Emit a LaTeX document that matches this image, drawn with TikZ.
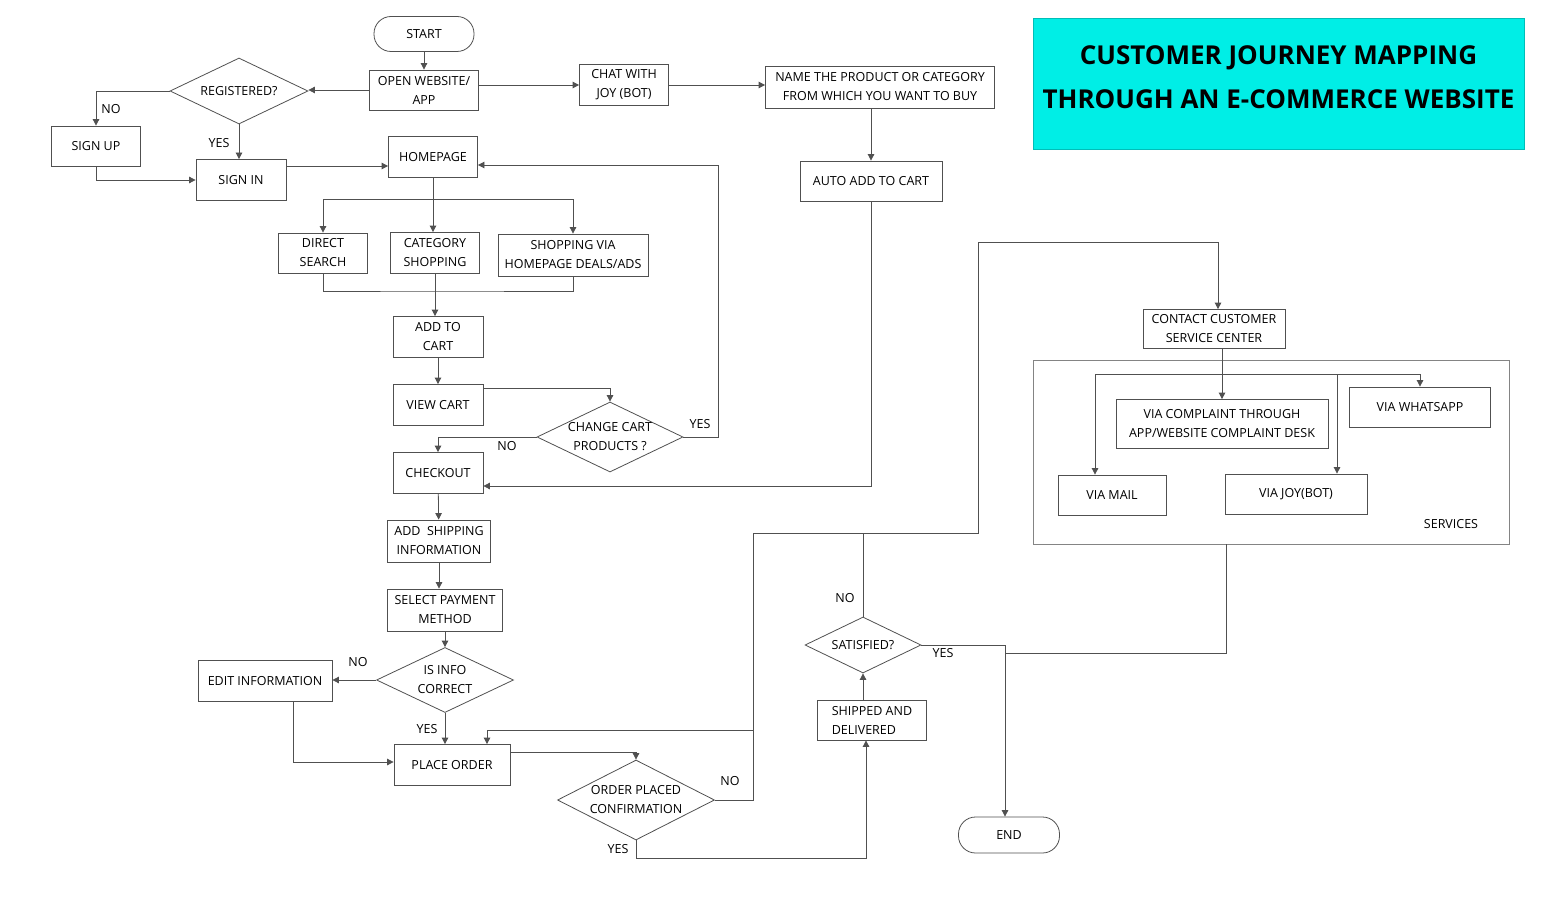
\documentclass[tikz,border=0pt]{standalone}
\usepackage{fontspec}
\setmainfont{Open Sans}
\usepackage{tikz}
\usetikzlibrary{shapes.geometric,arrows.meta}
\definecolor{titlecyan}{RGB}{0,238,230}
\definecolor{linegray}{RGB}{80,80,80}
\tikzstyle{node_box} = [rectangle, draw=linegray, line width=0.8pt, inner sep=1pt, align=center, font=\fontsize{12.5}{19}\selectfont]
\tikzstyle{node_term} = [rectangle, rounded corners=17pt, draw=linegray, line width=0.8pt, inner sep=1pt, font=\fontsize{12.5}{19}\selectfont]
\tikzstyle{node_dec} = [diamond, draw=linegray, line width=0.8pt, inner sep=-4pt, align=center, font=\fontsize{12.5}{19}\selectfont]
\tikzstyle{node_text} = [inner sep=0pt, font=\fontsize{12.5}{15}\selectfont]
\tikzstyle{node_title} = [rectangle, fill=titlecyan, draw=titlecyan!80!black, line width=0.4pt, align=center, font=\fontsize{26}{44}\selectfont\bfseries]
\tikzstyle{edge_normal} = [draw=linegray, line width=0.8pt]
\tikzstyle{edge_arrow} = [draw=linegray, line width=0.8pt, -{Triangle[length=6.5pt,width=6.5pt]}]

\begin{document}
\begin{tikzpicture}[x=1pt,y=-1pt]
			\useasboundingbox (0,0) rectangle (1560,920);
			\node (TITLE) at (1278.5,83.5) [node_title, minimum width=491, minimum height=131] {CUSTOMER JOURNEY MAPPING\\THROUGH AN E-COMMERCE WEBSITE\rule[-12pt]{0pt}{0pt}};
			
			\node (START) at (424,34) [node_term, minimum width=100, minimum height=35] {START};
			\node (OPEN) at (424,90) [node_box, minimum width=109, minimum height=40] {OPEN WEBSITE/\\APP};
			\node (REG) at (239,91) [node_dec, minimum width=138, minimum height=66, aspect=2.1] {REGISTERED?};
			\node (SIGNUP) at (96,146) [node_box, minimum width=89, minimum height=40] {SIGN UP};
			\node (SIGNIN) at (241,180) [node_box, minimum width=90, minimum height=41] {SIGN IN};
			\node (HOME) at (433,157) [node_box, minimum width=89, minimum height=41] {HOMEPAGE};
			\node (CHAT) at (624,85) [node_box, minimum width=89, minimum height=41] {CHAT WITH\\JOY (BOT)};
			\node (NAME) at (880,87) [node_box, minimum width=229, minimum height=42] {NAME THE PRODUCT OR CATEGORY\\FROM WHICH YOU WANT TO BUY};
			\node (AUTO) at (871,181) [node_box, minimum width=142, minimum height=40] {AUTO ADD TO CART};
			\node (DIRECT) at (323,253) [node_box, minimum width=89, minimum height=40] {DIRECT\\SEARCH};
			\node (CAT) at (435,253) [node_box, minimum width=89, minimum height=41] {CATEGORY\\SHOPPING};
			\node (DEALS) at (573,255) [node_box, minimum width=150, minimum height=42] {SHOPPING VIA\\HOMEPAGE DEALS/ADS};
			\node (ADDCART) at (438,337) [node_box, minimum width=90, minimum height=41] {ADD TO\\CART};
			\node (VIEW) at (438,405) [node_box, minimum width=90, minimum height=41] {VIEW CART};
			\node (CHG) at (610,437) [node_dec, minimum width=146, minimum height=70, aspect=2.09] {CHANGE CART\\PRODUCTS ?};
			\node (CHECK) at (438,473) [node_box, minimum width=90, minimum height=41] {CHECKOUT};
			\node (SHIP) at (439,541) [node_box, minimum width=103, minimum height=42] {ADD\ \ SHIPPING\\INFORMATION};
			\node (PAY) at (445,610) [node_box, minimum width=115, minimum height=42] {SELECT PAYMENT\\METHOD};
			\node (INFO) at (445,680) [node_dec, minimum width=137, minimum height=65, aspect=2.1] {IS INFO\\CORRECT};
			\node (EDIT) at (265,681) [node_box, minimum width=134, minimum height=41] {EDIT INFORMATION};
			\node (PLACE) at (452,765) [node_box, minimum width=116, minimum height=41] {PLACE ORDER};
			\node (ORD) at (636,800) [node_dec, minimum width=157, minimum height=80, aspect=1.96] {ORDER PLACED\\CONFIRMATION};
			\node (SHIPD) at (872,720) [node_box, minimum width=109, minimum height=40, align=left] {SHIPPED AND\\DELIVERED};
			\node (SAT) at (863,645) [node_dec, minimum width=116, minimum height=56, aspect=2.07] {SATISFIED?};
			\node (END) at (1009,835) [node_term, minimum width=101, minimum height=36] {END};
			\node (CONTACT) at (1214,329) [node_box, minimum width=142, minimum height=39] {CONTACT CUSTOMER\\SERVICE CENTER};
			\node (SERV) at (1271,452) [rectangle, draw=linegray!70, line width=0.8pt, minimum width=476, minimum height=184] {};
			\node (COMPL) at (1222,424) [node_box, minimum width=212, minimum height=49] {VIA COMPLAINT THROUGH\\APP/WEBSITE COMPLAINT DESK};
			\node (WHATS) at (1420,407) [node_box, minimum width=141, minimum height=40] {VIA WHATSAPP};
			\node (MAIL) at (1112,495) [node_box, minimum width=108, minimum height=40] {VIA MAIL};
			\node (JOYBOT) at (1296,494) [node_box, minimum width=142, minimum height=40] {VIA JOY(BOT)};
			\node (SERVLBL) at (1451,524) [node_text] {SERVICES};
			
			\node (NO1) at (111,109) [node_text] {NO};
			\node (YES1) at (219,143) [node_text] {YES};
			\node (NO2) at (507,446) [node_text] {NO};
			\node (YES2) at (700,424) [node_text] {YES};
			\node (NO3) at (358,662) [node_text] {NO};
			\node (YES3) at (427,729) [node_text] {YES};
			\node (NO4) at (730,781) [node_text] {NO};
			\node (YES4) at (618,849) [node_text] {YES};
			\node (NO5) at (845,598) [node_text] {NO};
			\node (YES5) at (943,653) [node_text] {YES};
			
			\coordinate (HB) at (433,199);
			\coordinate (MB) at (436,291);
			\coordinate (YB) at (718,165);
			\coordinate (J1) at (753,533);
			\coordinate (J2) at (753,730);
			\coordinate (J3) at (978,242);
			\coordinate (J4) at (866,858);
			\coordinate (J5) at (1005,653);
			\coordinate (J6) at (1221,374);
			
			\draw[edge_arrow] (START) -- (OPEN);
			\draw[edge_arrow] (OPEN.west) -- (OPEN.west -| REG.east);
			\draw[edge_arrow] (REG.west) -| (SIGNUP.north);
			\draw[edge_arrow] (REG.south) -- (REG.south |- SIGNIN.north);
			\draw[edge_arrow] (SIGNUP.south) |- (SIGNIN.west);
			\draw[edge_arrow] ([yshift=-9pt]HOME.west -| SIGNIN.east) -- ([yshift=-9pt]HOME.west);
			\draw[edge_arrow] (OPEN.east |- CHAT.west) -- (CHAT.west);
			\draw[edge_arrow] (CHAT.east) -- (CHAT.east -| NAME.west);
			\draw[edge_arrow] (AUTO.north |- NAME.south) -- (AUTO.north);
			\draw[edge_normal] (HOME.south) -- (HB);
			\draw[edge_arrow] (HB) -| (DIRECT.north);
			\draw[edge_arrow] (HB) -- (HB |- CAT.north);
			\draw[edge_arrow] (HB) -| (DEALS.north);
			\draw[edge_normal] (DIRECT.south) |- (MB) -| (DEALS.south);
			\draw[edge_arrow] (CAT.south) -- (CAT.south |- ADDCART.north);
			\draw[edge_arrow] (ADDCART) -- (VIEW);
			\draw[edge_arrow] ([yshift=-4pt]VIEW.north east) -| (CHG.north);
			\draw[edge_arrow] (CHG.west) -| (CHECK.north);
			\draw[edge_arrow] (CHG.east) -| (YB) -- (YB -| HOME.east);
			\draw[edge_arrow] (AUTO.south) |- ([yshift=-13pt]CHECK.east);
			\draw[edge_arrow] (CHECK) -- (SHIP);
			\draw[edge_arrow] (SHIP.south) -- (SHIP.south |- PAY.north);
			\draw[edge_arrow] (PAY) -- (INFO);
			\draw[edge_arrow] (INFO.west) -- (INFO.west -| EDIT.east);
			\draw[edge_arrow] (INFO.south) -- (INFO.south |- PLACE.north);
			\draw[edge_arrow] ([xshift=28pt]EDIT.south) |- ([yshift=3pt]PLACE.west);
			\draw[edge_arrow] ([yshift=13pt]PLACE.east) -| (ORD.north);
			\draw[edge_arrow] (ORD.east) -| (J2) -| ([xshift=35pt]PLACE.north);
			\draw[edge_normal] (J2) -- (J1) -- (SAT.north |- J1);
			\draw[edge_arrow] (SAT.north) -- (SAT.north |- J1) -| (J3) -| ([xshift=4pt]CONTACT.north);
			\draw[edge_arrow] (ORD.south) |- (J4) -- (J4 |- SHIPD.south);
			\draw[edge_arrow] (SAT.south |- SHIPD.north) -- (SAT.south);
			\draw[edge_arrow] (SAT.east) -| ([xshift=-4pt]END.north);
			\draw[edge_normal] ([xshift=-45pt]SERV.south) |- (J5);
			\draw[edge_arrow] (COMPL.north |- CONTACT.south) -- (COMPL.north);
			\draw[edge_arrow] (J6) -| ([xshift=-17pt]MAIL.north);
			\draw[edge_arrow] (J6) -| (WHATS.north);
			\draw[edge_arrow] ([xshift=41pt]JOYBOT.north |- J6) -- ([xshift=41pt]JOYBOT.north);
		\end{tikzpicture}
\end{document}
